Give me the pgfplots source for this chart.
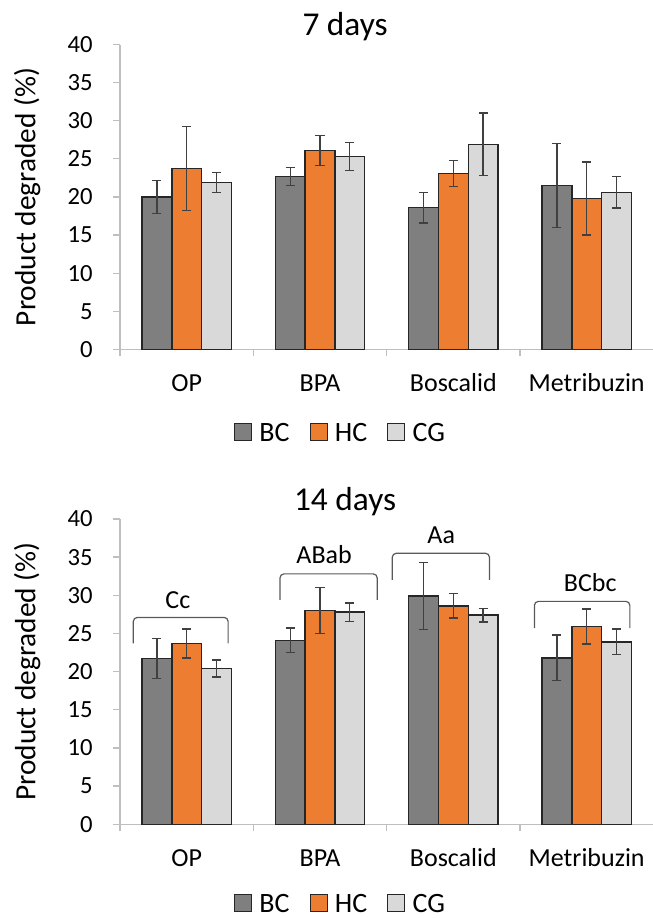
\documentclass[border=0pt]{standalone}
\usepackage{pgfplots}
\pgfplotsset{compat=1.18}
\usepackage{fontspec}
\setmainfont{Carlito}
\definecolor{bcgray}{HTML}{7F7F7F}
\definecolor{hcorange}{HTML}{ED7D31}
\definecolor{cglight}{HTML}{D9D9D9}
\definecolor{axgray}{HTML}{BFBFBF}
\definecolor{errgray}{HTML}{404040}
\definecolor{brgray}{HTML}{595959}
\definecolor{edgec}{HTML}{262626}

\pgfplotsset{
 mybars/.style={
  scale only axis, width=400pt,
  ybar=0pt, bar width=22.35pt,
  xmin=-0.5, xmax=3.5, ymin=0, ymax=40,
  ytick={0,5,...,40},
  axis lines=left, axis line style={-, draw=axgray, line width=0.9pt},
  tick align=outside, major tick length=5.25pt,
  tick style={draw=axgray, line width=0.9pt},
  xtick={-0.5,0.5,1.5,2.5,3.5}, xticklabels={,,,,},
  extra x ticks={0,1,2,3},
  extra x tick labels={OP,BPA,Boscalid,Metribuzin},
  extra x tick style={major tick length=0pt},
  /pgf/number format/assume math mode=true,
  yticklabel style={font=\fontsize{18.5}{20}\selectfont, inner sep=0pt, xshift=-15pt},
  xticklabel style={font=\fontsize{19.5}{22}\selectfont, anchor=base, yshift=-31.8pt},
  ylabel={Product degraded (\%)},
  ylabel style={at={(axis description cs:-0.174,0.5)}, anchor=center, font=\fontsize{22}{24}\selectfont},
  every axis title/.style={at={(0.422,1.029)}, anchor=base, font=\fontsize{25}{28}\selectfont},
  clip=false,
  legend columns=3,
  legend style={draw=none, fill=none, font=\fontsize{21}{24}\selectfont, anchor=center,
    inner sep=0pt, nodes={inner ysep=0.5pt},
    /tikz/every even column/.append style={column sep=13pt}},
  legend image code/.code={\draw[#1, draw=edgec, line width=0.9pt] (0pt,-5.6pt) rectangle (12.75pt,7.15pt); \path (16pt,0pt);},
  every axis plot/.append style={draw=edgec, line width=1.1pt,
    /pgfplots/error bars/y dir=both, /pgfplots/error bars/y explicit,
    /pgfplots/error bars/error bar style={line width=1pt, draw=errgray},
    /pgfplots/error bars/error mark options={rotate=90, mark size=3.4pt, line width=1pt, draw=errgray}},
 }
}

\begin{document}
\begin{tikzpicture}
\useasboundingbox (0,0) rectangle (489.75pt,688.5pt);

% ---------- 7 days ----------
\begin{axis}[mybars, at={(90pt,426.5pt)}, anchor=south west, height=228.6pt,
  title={7 days},
  legend style={at={(0.414,-0.2746)}}]
\addplot[fill=bcgray] coordinates {(0,20.0) +- (0,2.2) (1,22.7) +- (0,1.2) (2,18.6) +- (0,2.0) (3,21.5) +- (0,5.5)};
\addplot[fill=hcorange] coordinates {(0,23.7) +- (0,5.5) (1,26.1) +- (0,2.0) (2,23.1) +- (0,1.7) (3,19.8) +- (0,4.8)};
\addplot[fill=cglight] coordinates {(0,21.9) +- (0,1.3) (1,25.3) +- (0,1.8) (2,26.9) +- (0,4.1) (3,20.6) +- (0,2.05)};
\legend{BC,HC,CG}
\end{axis}

% ---------- 14 days ----------
\begin{axis}[mybars, at={(90pt,70.3pt)}, anchor=south west, height=229pt,
  title={14 days},
  legend style={at={(0.414,-0.262)}}]
\addplot[fill=bcgray] coordinates {(0,21.7) +- (0,2.6) (1,24.1) +- (0,1.6) (2,29.9) +- (0,4.35) (3,21.8) +- (0,3.0)};
\addplot[fill=hcorange] coordinates {(0,23.7) +- (0,1.9) (1,28.0) +- (0,3.0) (2,28.6) +- (0,1.6) (3,25.9) +- (0,2.3)};
\addplot[fill=cglight] coordinates {(0,20.4) +- (0,1.1) (1,27.8) +- (0,1.2) (2,27.4) +- (0,0.9) (3,23.9) +- (0,1.7)};
\legend{BC,HC,CG}
\draw[brgray, line width=0.9pt, rounded corners=3pt] (axis cs:-0.400,23.7) -- (axis cs:-0.400,27.1) -- (axis cs:0.311,27.1) -- (axis cs:0.311,23.7);
\draw[brgray, line width=0.9pt, rounded corners=3pt] (axis cs:0.700,29.4) -- (axis cs:0.700,32.8) -- (axis cs:1.429,32.8) -- (axis cs:1.429,29.4);
\draw[brgray, line width=0.9pt, rounded corners=3pt] (axis cs:1.542,32.0) -- (axis cs:1.542,35.5) -- (axis cs:2.271,35.5) -- (axis cs:2.271,32.0);
\draw[brgray, line width=0.9pt, rounded corners=3pt] (axis cs:2.608,25.7) -- (axis cs:2.608,29.2) -- (axis cs:3.324,29.2) -- (axis cs:3.324,25.7);
\node[font=\fontsize{19.5}{22}\selectfont, anchor=center] at (axis cs:-0.066,29.3) {Cc};
\node[font=\fontsize{19.5}{22}\selectfont, anchor=center] at (axis cs:1.031,35.3) {ABab};
\node[font=\fontsize{19.5}{22}\selectfont, anchor=center] at (axis cs:1.909,37.8) {Aa};
\node[font=\fontsize{19.5}{22}\selectfont, anchor=center] at (axis cs:3.027,31.7) {BCbc};
\end{axis}
\end{tikzpicture}
\end{document}
